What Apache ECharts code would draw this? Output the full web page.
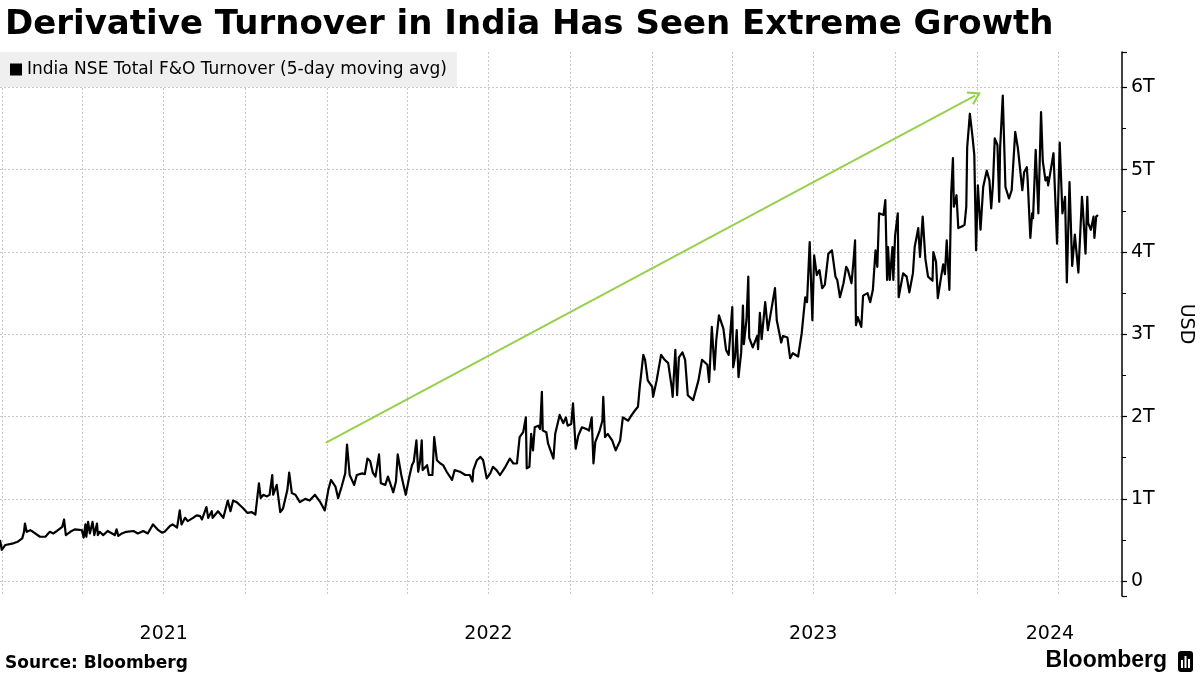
<!DOCTYPE html>
<html>
<head>
<meta charset="utf-8">
<script src="https://cdn.jsdelivr.net/npm/echarts@6/dist/echarts.min.js"></script>
<style>
  html, body { margin: 0; padding: 0; background: #fff; }
  #chart { width: 1200px; height: 675px; }
</style>
</head>
<body>
<div id="chart"></div>
<script>
// ---- Data ----
const dates = [
  '2020-12-29','2020-12-31','2021-01-04','2021-01-13','2021-01-18','2021-01-23','2021-01-25','2021-01-26','2021-01-28','2021-02-01',
  '2021-02-04','2021-02-12','2021-02-18','2021-02-23','2021-02-27','2021-03-03','2021-03-09','2021-03-11','2021-03-13','2021-03-18',
  '2021-03-23','2021-03-31','2021-04-02','2021-04-04','2021-04-05','2021-04-07','2021-04-09','2021-04-12','2021-04-14','2021-04-17',
  '2021-04-18','2021-04-20','2021-04-24','2021-04-29','2021-05-04','2021-05-07','2021-05-09','2021-05-11','2021-05-15','2021-05-20',
  '2021-05-28','2021-06-02','2021-06-08','2021-06-13','2021-06-19','2021-06-25','2021-06-29','2021-07-02','2021-07-08','2021-07-11',
  '2021-07-16','2021-07-19','2021-07-21','2021-07-25','2021-07-28','2021-08-03','2021-08-07','2021-08-11','2021-08-13','2021-08-18',
  '2021-08-20','2021-08-24','2021-08-25','2021-08-31','2021-09-06','2021-09-11','2021-09-14','2021-09-17','2021-09-21','2021-09-25',
  '2021-09-28','2021-10-03','2021-10-08','2021-10-12','2021-10-14','2021-10-16','2021-10-18','2021-10-21','2021-10-25','2021-10-28',
  '2021-10-31','2021-11-01','2021-11-03','2021-11-05','2021-11-09','2021-11-12','2021-11-17','2021-11-19','2021-11-22','2021-11-26',
  '2021-12-01','2021-12-07','2021-12-12','2021-12-18','2021-12-24','2021-12-29','2022-01-02','2022-01-05','2022-01-10','2022-01-13',
  '2022-01-17','2022-01-21','2022-01-23','2022-01-26','2022-01-31','2022-02-03','2022-02-09','2022-02-12','2022-02-15','2022-02-18',
  '2022-02-21','2022-02-24','2022-02-26','2022-02-28','2022-03-02','2022-03-07','2022-03-10','2022-03-16','2022-03-19','2022-03-21',
  '2022-03-25','2022-03-27','2022-03-30','2022-04-03','2022-04-06','2022-04-08','2022-04-11','2022-04-13','2022-04-15','2022-04-17',
  '2022-04-18','2022-04-23','2022-04-25','2022-04-29','2022-05-01','2022-05-04','2022-05-08','2022-05-11','2022-05-15','2022-05-21',
  '2022-05-24','2022-05-30','2022-06-05','2022-06-10','2022-06-13','2022-06-14','2022-06-18','2022-06-22','2022-06-25','2022-06-29',
  '2022-07-03','2022-07-06','2022-07-10','2022-07-14','2022-07-20','2022-07-25','2022-07-29','2022-08-02','2022-08-05','2022-08-09',
  '2022-08-12','2022-08-13','2022-08-16','2022-08-18','2022-08-20','2022-08-22','2022-08-26','2022-08-28','2022-08-30','2022-08-31',
  '2022-09-04','2022-09-06','2022-09-12','2022-09-14','2022-09-19','2022-09-23','2022-09-26','2022-09-28','2022-10-02','2022-10-04',
  '2022-10-07','2022-10-10','2022-10-14','2022-10-19','2022-10-22','2022-10-25','2022-10-27','2022-10-29','2022-10-31','2022-11-03',
  '2022-11-06','2022-11-07','2022-11-09','2022-11-12','2022-11-17','2022-11-21','2022-11-26','2022-11-29','2022-12-05','2022-12-09',
  '2022-12-13','2022-12-16','2022-12-18','2022-12-22','2022-12-24','2022-12-27','2023-01-01','2023-01-02','2023-01-06','2023-01-11',
  '2023-01-15','2023-01-19','2023-01-23','2023-01-24','2023-01-27','2023-01-29','2023-01-31','2023-02-04','2023-02-07','2023-02-10',
  '2023-02-16','2023-02-22','2023-02-26','2023-03-04','2023-03-06','2023-03-09','2023-03-12','2023-03-14','2023-03-17','2023-03-22',
  '2023-03-25','2023-03-28','2023-04-01','2023-04-02','2023-04-04','2023-04-06','2023-04-08','2023-04-11','2023-04-13','2023-04-14',
  '2023-04-17','2023-04-19','2023-04-20','2023-04-24','2023-04-29','2023-04-30','2023-05-02','2023-05-04','2023-05-08','2023-05-11',
  '2023-05-16','2023-05-19','2023-05-21','2023-05-26','2023-05-28','2023-06-02','2023-06-05','2023-06-08','2023-06-14','2023-06-18',
  '2023-06-22','2023-06-24','2023-06-27','2023-06-30','2023-07-02','2023-07-05','2023-07-08','2023-07-11','2023-07-14','2023-07-18',
  '2023-07-22','2023-07-26','2023-07-28','2023-07-31','2023-08-04','2023-08-07','2023-08-09','2023-08-13','2023-08-15','2023-08-17',
  '2023-08-18','2023-08-20','2023-08-24','2023-08-26','2023-08-31','2023-09-03','2023-09-06','2023-09-09','2023-09-11','2023-09-13',
  '2023-09-18','2023-09-20','2023-09-22','2023-09-23','2023-09-25','2023-09-28','2023-09-29','2023-10-01','2023-10-04','2023-10-05',
  '2023-10-10','2023-10-14','2023-10-17','2023-10-21','2023-10-23','2023-10-27','2023-10-29','2023-11-01','2023-11-04','2023-11-07',
  '2023-11-12','2023-11-13','2023-11-16','2023-11-18','2023-11-21','2023-11-24','2023-11-26','2023-11-28','2023-12-01','2023-12-03',
  '2023-12-05','2023-12-06','2023-12-09','2023-12-11','2023-12-15','2023-12-18','2023-12-20','2023-12-21','2023-12-24','2023-12-27',
  '2023-12-29','2023-12-31','2024-01-02','2024-01-05','2024-01-08','2024-01-10','2024-01-12','2024-01-15','2024-01-17','2024-01-19',
  '2024-01-21','2024-01-24','2024-01-26','2024-01-27','2024-01-30','2024-02-02','2024-02-04','2024-02-06','2024-02-09','2024-02-11',
  '2024-02-13','2024-02-16','2024-02-21','2024-02-23','2024-02-26','2024-02-27','2024-03-01','2024-03-03','2024-03-04','2024-03-06',
  '2024-03-07','2024-03-10','2024-03-13','2024-03-15','2024-03-18','2024-03-20','2024-03-21','2024-03-24','2024-03-27','2024-03-31',
  '2024-04-03','2024-04-06','2024-04-09','2024-04-11','2024-04-14','2024-04-17','2024-04-20','2024-04-24','2024-04-28','2024-04-29',
  '2024-05-02','2024-05-04','2024-05-05','2024-05-08','2024-05-11','2024-05-12','2024-05-14','2024-05-16'
];
// Turnover in trillions of USD
const turnover = [
  0.50,0.38,0.44,0.46,0.48,0.52,0.60,0.70,0.60,0.62,
  0.60,0.54,0.54,0.60,0.58,0.61,0.66,0.75,0.56,0.60,
  0.63,0.62,0.53,0.69,0.54,0.72,0.58,0.72,0.56,0.70,
  0.56,0.60,0.56,0.61,0.58,0.56,0.63,0.55,0.58,0.60,
  0.61,0.58,0.61,0.58,0.69,0.62,0.59,0.60,0.67,0.69,
  0.65,0.86,0.69,0.77,0.73,0.77,0.80,0.79,0.75,0.90,
  0.77,0.85,0.77,0.85,0.77,0.98,0.85,0.98,0.96,0.92,
  0.89,0.83,0.84,0.81,0.82,1.19,1.01,1.05,1.03,1.05,
  1.29,1.05,1.03,1.17,0.84,0.88,1.11,1.32,1.07,1.05,
  0.96,1.00,0.98,1.05,0.96,0.86,1.11,1.23,1.15,1.01,
  1.15,1.31,1.66,1.29,1.17,1.29,1.31,1.30,1.49,1.46,
  1.32,1.27,1.29,1.54,1.19,1.17,1.27,1.08,1.21,1.54,
  1.29,1.19,1.05,1.27,1.41,1.45,1.71,1.33,1.45,1.71,
  1.35,1.41,1.29,1.29,1.75,1.47,1.43,1.41,1.33,1.23,
  1.35,1.33,1.29,1.29,1.21,1.35,1.47,1.51,1.47,1.25,
  1.31,1.39,1.35,1.29,1.39,1.49,1.43,1.43,1.75,1.81,
  1.99,1.37,1.39,1.79,1.59,1.87,1.89,1.85,2.30,1.83,
  1.81,1.67,1.49,1.79,2.02,1.92,1.99,1.89,1.91,2.16,
  1.61,1.77,1.87,1.85,1.83,1.99,1.43,1.69,1.71,1.83,
  1.95,2.24,1.75,1.79,1.71,1.59,1.71,1.99,1.95,2.02,
  2.08,2.12,2.36,2.75,2.69,2.44,2.36,2.24,2.44,2.75,
  2.69,2.65,2.35,2.24,2.81,2.26,2.72,2.78,2.69,2.26,
  2.20,2.44,2.69,2.63,2.42,3.09,2.57,2.93,3.23,3.07,
  2.81,2.75,3.33,2.60,2.72,3.05,2.48,2.78,3.35,2.88,
  3.18,3.70,2.96,2.84,2.98,2.82,3.26,2.94,3.39,3.05,
  3.37,3.56,3.17,2.90,2.98,2.96,2.71,2.77,2.73,3.01,
  3.45,3.39,4.12,3.17,3.96,3.72,3.78,3.56,3.60,3.98,
  4.02,3.70,3.66,3.45,3.62,3.82,3.78,3.62,3.86,4.14,
  3.11,3.21,3.09,3.47,3.50,3.39,3.54,4.02,3.82,4.47,
  4.45,4.63,3.66,4.06,3.66,4.06,3.66,4.20,4.47,3.45,
  3.74,3.70,3.51,3.74,4.06,4.29,3.94,4.43,3.92,3.70,
  3.65,4.00,3.88,3.44,3.65,3.85,3.73,4.14,3.54,4.71,
  5.14,4.55,4.69,4.29,4.31,4.33,4.55,5.27,5.68,5.40,
  5.18,4.02,4.81,4.27,4.79,4.79,4.99,4.87,4.53,4.83,
  5.38,5.30,4.61,5.26,5.90,4.79,4.79,4.65,4.75,4.73,
  5.46,5.26,4.75,4.97,5.03,4.87,4.17,4.47,4.41,4.43,
  5.24,4.47,5.70,5.10,4.87,4.91,4.81,5.00,5.20,4.10,
  5.33,4.47,4.67,3.63,4.85,3.83,4.21,3.75,4.67,4.53,
  3.98,4.67,4.35,4.27,4.43,4.17,4.43,4.45
];
// Quarterly grid lines and year labels on the date axis
const quarterTicks = [
  '2021-01-01','2021-04-01','2021-07-01','2021-10-01',
  '2022-01-01','2022-04-01','2022-07-01','2022-10-01',
  '2023-01-01','2023-04-01','2023-07-01','2023-10-01',
  '2024-01-01','2024-04-01'
];
const yearLabelDates = ['2021-07-01','2022-07-01','2023-07-01','2024-03-23'];
const xRange = ['2020-12-29', '2024-06-12'];
// Annotation arrow [date, value in T]
const arrowStart = ['2021-12-30', 1.68];
const arrowEnd = ['2023-12-30', 5.90];

const seriesName = 'India NSE Total F&O Turnover (5-day moving avg)';
const FONT = 'DejaVu Sans';

const chart = echarts.init(document.getElementById('chart'), null, { renderer: 'canvas' });
const toTs = s => Date.parse(s + 'T00:00:00Z');

const option = {
  backgroundColor: '#ffffff',
  animation: false,
  title: [
    {
      text: 'Derivative Turnover in India Has Seen Extreme Growth',
      left: 0, top: 3,
      textStyle: { fontFamily: FONT, fontWeight: 'bold', fontSize: 34, color: '#000' }
    },
    {
      text: 'Source: Bloomberg',
      left: 0, top: 650,
      textStyle: { fontFamily: FONT, fontWeight: 'bold', fontSize: 17, color: '#000' }
    }
  ],
  legend: {
    left: 0, top: 52,
    padding: [9, 10, 9, 10],
    backgroundColor: '#efefef',
    icon: 'rect', itemWidth: 12, itemHeight: 12, itemGap: 10,
    textStyle: { fontFamily: FONT, fontSize: 17, color: '#000' },
    selectedMode: false,
    data: [{ name: seriesName, itemStyle: { color: '#000' } }]
  },
  grid: { left: 0, right: 78, top: 52, bottom: 79, containLabel: false, outerBoundsMode: 'none' },
  xAxis: {
    type: 'value',
    min: toTs(xRange[0]),
    max: toTs(xRange[1]),
    axisLine: { show: false },
    axisTick: { show: false, customValues: quarterTicks.map(toTs) },
    splitLine: { show: true, lineStyle: { color: '#c8c8c8', type: [2, 2], width: 1 } },
    axisLabel: {
      customValues: yearLabelDates.map(toTs),
      formatter: v => String(new Date(v).getUTCFullYear()),
      margin: 29,
      fontFamily: FONT, fontSize: 19, color: '#000'
    }
  },
  yAxis: {
    type: 'value',
    position: 'right',
    min: -0.18,
    max: 6.43,
    splitNumber: 6,
    name: 'USD',
    nameLocation: 'middle',
    nameRotate: -90,
    nameGap: 54,
    nameTextStyle: { fontFamily: FONT, fontSize: 19, color: '#000' },
    axisLine: { show: true, lineStyle: { color: '#000', width: 1.5 } },
    axisTick: { show: true, length: 5, lineStyle: { color: '#000', width: 1.2 } },
    minorTick: { show: true, splitNumber: 2, length: 4, lineStyle: { color: '#000', width: 1 } },
    axisLabel: {
      showMinLabel: false, showMaxLabel: false,
      margin: 9,
      fontFamily: FONT, fontSize: 19, color: '#000',
      formatter: v => (v === 0 ? '0' : v + 'T')
    },
    splitLine: { show: true, showMinLine: false, showMaxLine: false,
      lineStyle: { color: '#c8c8c8', type: [2, 2], width: 1 } }
  },
  series: [
    {
      name: seriesName,
      type: 'line',
      data: dates.map((d, i) => [toTs(d), turnover[i]]),
      showSymbol: false,
      symbol: 'none',
      lineStyle: { color: '#000', width: 2.2, join: 'round' },
      itemStyle: { color: '#000' },
      z: 3,
      markLine: {
        silent: true,
        symbol: ['none', 'path://M10,0 L17,12 L15.4,13.2 L10,4 L4.6,13.2 L3,12 Z'],
        symbolSize: [15, 13],
        label: { show: false },
        lineStyle: { color: '#96d04c', width: 2, type: 'solid' },
        data: [[
          { coord: [toTs(arrowStart[0]), arrowStart[1]] },
          { coord: [toTs(arrowEnd[0]), arrowEnd[1]] }
        ]]
      }
    }
  ],
  graphic: [
    {
      type: 'text', right: 33, top: 649,
      style: { text: 'Bloomberg', font: 'bold 23px "Liberation Sans"', fill: '#000' }
    },
    {
      type: 'group', right: 7, top: 651,
      children: [
        { type: 'rect', shape: { x: 0, y: 0, width: 15, height: 21, r: 3 }, style: { fill: '#000' } },
        { type: 'rect', shape: { x: 3, y: 9, width: 2, height: 8 }, style: { fill: '#fff' } },
        { type: 'rect', shape: { x: 6.5, y: 5, width: 2, height: 12 }, style: { fill: '#fff' } },
        { type: 'rect', shape: { x: 10, y: 8, width: 2, height: 9 }, style: { fill: '#fff' } }
      ]
    }
  ]
};
chart.setOption(option);
</script>
</body>
</html>
